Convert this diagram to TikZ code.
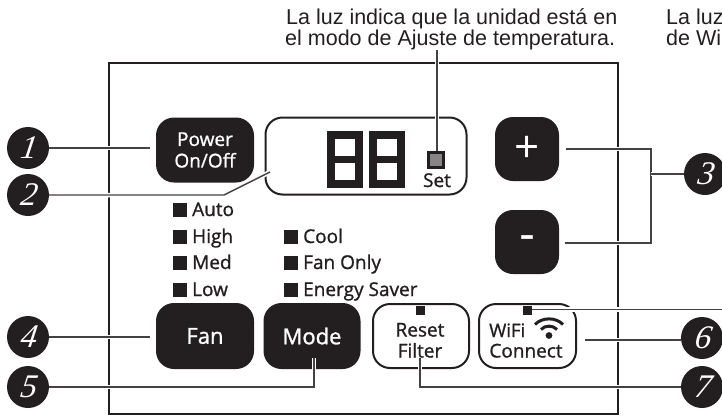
\documentclass[tikz,border=0pt]{standalone}
\usepackage{fontspec}
\setmainfont{Open Sans}[FakeBold=1.1]
\newfontfamily\plainfont{Open Sans}
\newfontfamily\capfont{Liberation Sans}
\newfontfamily\numfont{Liberation Serif}[ItalicFeatures={FakeSlant=0.15}]
\definecolor{ink}{HTML}{231F20}
\tikzset{
  panel/.style={draw=ink,line width=2.5pt},
  keybtn/.style={draw=none,fill=ink,rounded corners=18pt,inner sep=0pt,text=white,align=center,font=\fontsize{19}{21.5}\selectfont},
  outbtn/.style={draw=ink,line width=2pt,fill=white,rounded corners=17pt,inner sep=0pt,text=ink,align=center,font=\fontsize{19}{21}\selectfont},
  led/.style={fill=ink,draw=none,minimum size=14pt,inner sep=0pt},
  smallled/.style={fill=ink,draw=none,minimum size=9pt,inner sep=0pt},
  ledlabel/.style={anchor=base west,inner sep=0pt,text=ink,font=\fontsize{19}{20}\selectfont},
  badge/.style={circle,fill=ink,draw=none,minimum size=42pt,inner sep=0pt,text=white,font=\numfont\itshape\fontsize{33}{33}\selectfont},
  leader/.style={draw=ink!85!white,line width=1.4pt,preaction={draw=white,line width=4.5pt}},
  caption/.style={anchor=base west,inner sep=0pt,text=ink,font=\capfont\fontsize{21.5}{22}\selectfont},
  digit/.style={draw=ink,line width=7.5pt},
}
\begin{document}
\begin{tikzpicture}[x=1pt,y=-1pt]
\useasboundingbox (0,0) rectangle (722,418);
\clip (0,0) rectangle (722,418);
\draw[panel] (109,63) rectangle (618,414);
% buttons
\node[keybtn,minimum width=98pt,minimum height=65pt] (power) at (205,150) {Power\\On/Off};
\node[outbtn,minimum width=201pt,minimum height=77pt] (display) at (366,156) {};
\node[keybtn,minimum width=64pt,minimum height=64pt] (plus) at (527,149) {\plainfont\fontsize{44}{44}\selectfont +};
\node[keybtn,minimum width=64pt,minimum height=64pt] (minus) at (527,242) {\fontsize{44}{44}\selectfont -};
\node[keybtn,minimum width=98pt,minimum height=66pt] (fan) at (205,336) {\fontsize{22}{24}\selectfont Fan};
\node[keybtn,minimum width=97pt,minimum height=66pt] (mode) at (312,336) {\fontsize{22}{24}\selectfont Mode};
\node[outbtn,minimum width=96pt,minimum height=64pt] (reset) at (421,336) {};
\node[inner sep=0pt,anchor=base,text=ink,font=\fontsize{19}{20}\selectfont] (rtxt) at (420,336.5) {Reset};
\node[inner sep=0pt,anchor=base,text=ink,font=\fontsize{19}{20}\selectfont] (ftxt) at (420,357.5) {Filter};
\node[outbtn,minimum width=97pt,minimum height=64pt] (wifi) at (527.5,336) {};
\node[inner sep=0pt,anchor=base west,text=ink,font=\fontsize{18.5}{20}\selectfont] (wifitxt) at (489,337) {WiFi};
\node[inner sep=0pt,anchor=base,text=ink,font=\fontsize{19}{20}\selectfont] (conn) at (526,357.5) {Connect};
% wifi icon
\fill[ink] (549,335.5) circle (3.4pt);
\draw[ink,line width=3pt] (541,329.5) .. controls (545,325) and (553,325) .. (557,329.5);
\draw[ink,line width=3pt] (535,324.5) .. controls (542,317) and (556,317) .. (563,324.5);
% digits
\draw[digit] (331,135) rectangle (359,184);
\draw[digit] (327,159.5) -- (363,159.5);
\draw[digit] (373,135) rectangle (401,184);
\draw[digit] (369,159.5) -- (405,159.5);
% set led
\node[minimum size=15pt,inner sep=0pt,fill=ink!55!white,draw=ink,line width=2.4pt] (setled) at (436,160) {};
\node[inner sep=0pt,anchor=base,text=ink,font=\fontsize{19}{20}\selectfont] (settxt) at (437,187) {Set};
% fan / mode lists
\node[led] (l1) at (180,210) {}; \node[ledlabel] (t1) at (192,216) {Auto};
\node[led] (l2) at (180,236.5) {}; \node[ledlabel] (t2) at (192,243) {High};
\node[led] (l3) at (180,263) {}; \node[ledlabel] (t3) at (192,269) {Med};
\node[led] (l4) at (180,290) {}; \node[ledlabel] (t4) at (192,296) {Low};
\node[led] (m1) at (291,236.5) {}; \node[ledlabel] (u1) at (303,243) {Cool};
\node[led] (m2) at (291,263) {}; \node[ledlabel] (u2) at (303,269) {Fan Only};
\node[led] (m3) at (291,290) {}; \node[ledlabel] (u3) at (303,296) {Energy Saver};
\node[smallled] (rled) at (420.5,310.5) {};
\node[smallled] (wled) at (527.5,310.5) {};
% captions
\node[caption] (cap1) at (286,24) {La luz indica que la unidad está en};
\node[caption] (cap2) at (285,45) {el modo de Ajuste de temperatura.};
\node[caption] (cap3) at (666,24) {La luz};
\node[caption] (cap4) at (666,45) {de Wi};
% badges
\node[badge] (n1) at (28,148) {1};
\node[badge] (n2) at (28,195) {2};
\node[badge] (n3) at (705,174) {3};
\node[badge] (n4) at (28,337) {4};
\node[badge] (n5) at (28,387) {5};
\node[badge] (n6) at (702,338) {6};
\node[badge] (n7) at (702,387) {7};
% leader end points
\coordinate (e1) at (150,148);
\coordinate (e2a) at (224,195);
\coordinate (e2) at (270,172);
\coordinate (e3a) at (566,149);
\coordinate (e3b) at (651,149);
\coordinate (e3c) at (651,243);
\coordinate (e3d) at (565,243);
\coordinate (e3m) at (651,174);
\coordinate (e4) at (150,337);
\coordinate (e5a) at (314,387);
\coordinate (e5) at (314,358);
\coordinate (e6) at (585,340);
\coordinate (e7a) at (420,387);
\coordinate (e7) at (420,358);
\coordinate (ew) at (722,309.5);
\coordinate (es) at (437,50);
% leaders
\draw[leader] (n1.east) -- (e1);
\draw[leader] (n2.east) -- (e2a) -- (e2);
\draw[leader] (e3a) -- (e3b) -- (e3c) -- (e3d);
\draw[leader] (e3m) -- (n3.west);
\draw[leader] (n4.east) -- (e4);
\draw[leader] (n5.east) -- (e5a) -- (e5);
\draw[leader] (e6) -- (n6.west |- e6);
\draw[leader] (n7.west) -- (e7a) -- (e7);
\draw[leader] (wled.east |- ew) -- (ew);
\draw[leader] (es) -- (setled.north -| es);
\end{tikzpicture}
\end{document}
